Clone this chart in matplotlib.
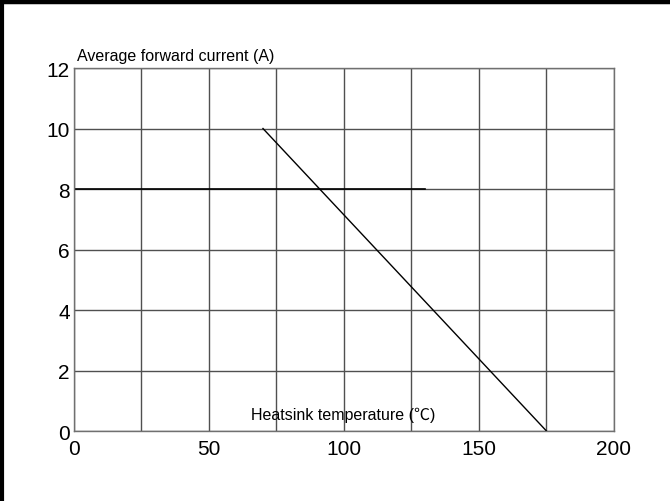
import matplotlib
matplotlib.use("Agg")
import matplotlib.pyplot as plt
from matplotlib.lines import Line2D

plt.rcParams['font.family'] = ['Liberation Sans', 'Noto Sans CJK SC', 'DejaVu Sans']

x_ticks = [0, 50, 100, 150, 200]
y_ticks = [0, 2, 4, 6, 8, 10, 12]
grid_x = [0, 25, 50, 75, 100, 125, 150, 175, 200]
grid_y = [0, 2, 4, 6, 8, 10, 12]
temp = [70, 175]
current = [10, 0]
dark_seg_x = [0, 130]
dark_seg_y = [8, 8]

fig = plt.figure(figsize=(6.7, 5.02), dpi=100)
ax = fig.add_axes([0.1104, 0.1394, 0.806, 0.7231])
ax.set_xlim(0, 200)
ax.set_ylim(0, 12)
ax.set_xticks(x_ticks)
ax.set_yticks(y_ticks)
ax.tick_params(length=0, labelsize=15)
ax.tick_params(axis='x', pad=6)
ax.tick_params(axis='y', pad=3)
for gx in grid_x:
    ax.axvline(gx, color='#505050', lw=1, zorder=1)
for gy in grid_y:
    ax.axhline(gy, color='#505050', lw=1, zorder=1)
for s in ax.spines.values():
    s.set_color('#707070')
    s.set_linewidth(1)
ax.plot(dark_seg_x, dark_seg_y, color='black', lw=1.2, zorder=2)
ax.plot(temp, current, color='black', lw=1, zorder=3)

fig.text(0.1150, 0.872, 'Average forward current (A)', fontsize=11.5, ha='left', va='bottom')
ax.text(0.328, 0.045, 'Heatsink temperature (℃)', transform=ax.transAxes, fontsize=11.5, ha='left', va='center')

# border
fig.add_artist(Line2D([0, 1], [0.999, 0.999], transform=fig.transFigure, color='black', lw=1))
fig.add_artist(Line2D([0, 1], [0.9945, 0.9945], transform=fig.transFigure, color='black', lw=2.5))
fig.add_artist(Line2D([0.0037, 0.0037], [0, 1], transform=fig.transFigure, color='black', lw=3))

fig.savefig('out.png', dpi=100)
